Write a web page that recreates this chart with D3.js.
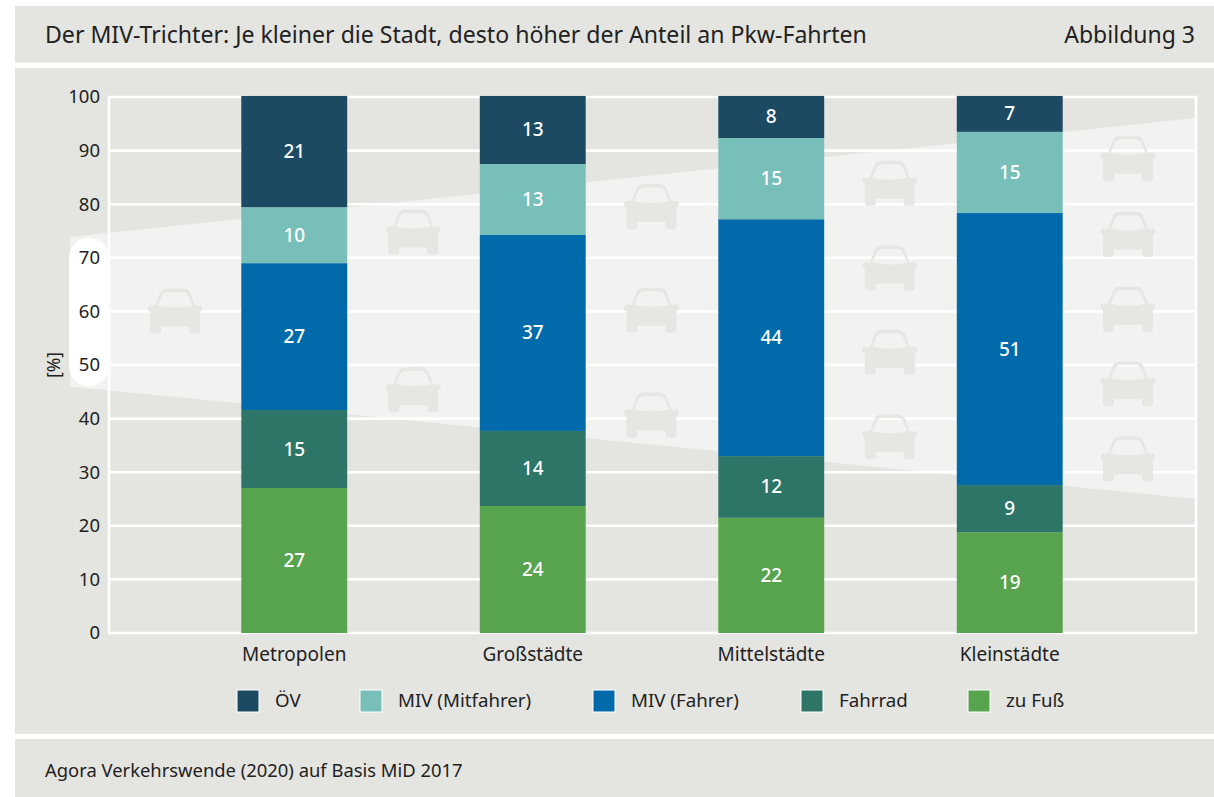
<!DOCTYPE html>
<html><head><meta charset="utf-8">
<script src="https://cdn.jsdelivr.net/npm/d3@7"></script>
<style>html,body{margin:0;padding:0;background:#fff}svg{display:block}text{font-family:"Noto Sans",sans-serif;fill:#222}</style>
</head><body><svg id="c" width="1214" height="797"></svg>
<script>
const titleText="Der MIV-Trichter: Je kleiner die Stadt, desto höher der Anteil an Pkw-Fahrten";
const figureText="Abbildung 3";
const sourceText="Agora Verkehrswende (2020) auf Basis MiD 2017";
const yLabel="[%]";
const categories=["Metropolen","Großstädte","Mittelstädte","Kleinstädte"];
const seriesNames=["zu Fuß","Fahrrad","MIV (Fahrer)","MIV (Mitfahrer)","ÖV"];
const zuFuss=[27.05,23.7,21.5,18.8];
const fahrrad=[14.55,14.0,11.5,8.8];
const fahrer=[27.4,36.55,44.2,50.75];
const mitfahrer=[10.45,13.25,15.15,15.15];
const oev=[20.75,12.7,7.85,6.7];
const seriesColors=["#58a44e","#2d7566","#006aab","#78bfba","#1d4a63"];
const legendOrder=["ÖV","MIV (Mitfahrer)","MIV (Fahrer)","Fahrrad","zu Fuß"];
const yTicks=[0,10,20,30,40,50,60,70,80,90,100];
const funnelUpper=[73.9,96.1];
const funnelLower=[46.0,25.0];
const carColumns=[0,1,1,2,2,2,3,3,3,3,4,4,4,4,4];
const carLevels=[60,74.7,45.3,79.5,60.1,40.6,83.8,68,52.3,36.5,88.5,74.3,60.3,46.4,32.4];
const seriesValues=[zuFuss,fahrrad,fahrer,mitfahrer,oev];

const svg=d3.select("#c");
const panel="#e4e4e0";
[[6,56.5],[68,666],[739,58]].forEach(([y,h])=>svg.append("rect").attr("x",15).attr("y",y).attr("width",1199).attr("height",h).attr("fill",panel));

const y=d3.scaleLinear().domain([0,100]).range([633,97]);
const x=d3.scaleBand().domain(categories).range([175,1129]).paddingInner(0.556).paddingOuter(0.278);
const plotL=109,plotR=1196;
const carX=d3.scaleLinear().domain([0,4]).range([175,1128]);

// funnel
const fx=d3.scaleLinear().domain([0,1]).range([70,plotR]);
svg.append("path").attr("fill","#f2f2f0").attr("d",d3.line().x(d=>fx(d[0])).y(d=>y(d[1]))([[0,funnelUpper[0]],[1,funnelUpper[1]],[1,funnelLower[1]],[0,funnelLower[0]]])+"Z");
svg.append("rect").attr("x",69).attr("y",y(73.8)).attr("width",40).attr("height",y(46.0)-y(73.8)).attr("rx",21).attr("fill","#fff");

// axis + grid
const gy=svg.append("g").attr("transform",`translate(${plotL},0)`)
 .call(d3.axisLeft(y).tickValues(yTicks).tickSize(0).tickPadding(9));
gy.select(".domain").remove();
gy.selectAll("text").attr("font-size",18.5).attr("fill","#222").style("font-family",'"Noto Sans",sans-serif');
const grid=svg.append("g").attr("stroke","#fff").attr("stroke-width",2.6).attr("fill","none");
grid.selectAll("line").data(yTicks).join("line").attr("x1",plotL).attr("x2",plotR).attr("y1",d=>y(d)).attr("y2",d=>y(d));
grid.append("line").attr("x1",plotL).attr("x2",plotL).attr("y1",y(100)-1.3).attr("y2",y(0)+1.3);
grid.append("line").attr("x1",plotR).attr("x2",plotR).attr("y1",y(100)-1.3).attr("y2",y(0)+1.3);

// cars
const carPath="M-20 -6 L-15 -19 Q-13 -23 -7 -23 L7 -23 Q13 -23 15 -19 L20 -6 L25.5 -6 Q27.5 -5.5 27.5 -3 Q27.5 0 25 0 L25 19 Q25 22 22 22 L17 22 Q14 22 14 19 L14 15 L-14 15 L-14 19 Q-14 22 -17 22 L-22 22 Q-25 22 -25 19 L-25 0 Q-27.5 0 -27.5 -3 Q-27.5 -5.5 -25.5 -6 Z M-17.5 -6 Q0 -2 17.5 -6 L12.5 -17 Q11 -19.5 7 -19.5 L-7 -19.5 Q-11 -19.5 -12.5 -17 Z";
svg.append("g").selectAll("path").data(carLevels).join("path")
 .attr("d",carPath).attr("fill","#e6e6e3").attr("fill-rule","evenodd")
 .attr("transform",(d,i)=>`translate(${carX(carColumns[i])},${y(d)})`);

// bars
const stacked=categories.map((c,i)=>{let acc=0;return seriesValues.map((s,k)=>{const v=s[i];const r={c,k,v,y0:acc,y1:acc+v};acc+=v;return r;});}).flat();
const gBars=svg.append("g");
gBars.selectAll("rect").data(stacked).join("rect")
 .attr("x",d=>x(d.c)).attr("width",x.bandwidth())
 .attr("y",d=>y(d.y1)).attr("height",d=>y(d.y0)-y(d.y1))
 .attr("fill",d=>seriesColors[d.k]);
gBars.selectAll("text").data(stacked).join("text")
 .attr("x",d=>x(d.c)+x.bandwidth()/2).attr("y",d=>y((d.y0+d.y1)/2)+6.5)
 .attr("text-anchor","middle").attr("font-size",19).attr("font-weight",500).style("fill","#fff")
 .text(d=>Math.round(d.v));

// category labels
const gx=svg.append("g").attr("transform","translate(0,633)").call(d3.axisBottom(x).tickSize(0).tickPadding(15));
gx.select(".domain").remove();
gx.selectAll("text").attr("font-size",19).attr("fill","#222").style("font-family",'"Noto Sans",sans-serif');

// y title
svg.append("text").attr("transform","translate(60,365) rotate(-90)").attr("text-anchor","middle").attr("font-size",17.5).text(yLabel);

// legend
const legendX=d3.scaleOrdinal().domain(legendOrder).range([237,360,593,801,968]);
const lg=svg.append("g").selectAll("g").data(legendOrder).join("g").attr("transform",d=>`translate(${legendX(d)},690)`);
lg.append("rect").attr("width",22).attr("height",22).attr("fill",d=>seriesColors[seriesNames.indexOf(d)]).attr("stroke","#fff").attr("stroke-width",1);
lg.append("text").attr("x",38).attr("y",17).attr("font-size",18.7).text(d=>d);

// header/footer
svg.append("text").attr("x",45).attr("y",43).attr("font-size",23.1).text(titleText);
svg.append("text").attr("x",1195).attr("y",43).attr("text-anchor","end").attr("font-size",23).text(figureText);
svg.append("text").attr("x",45).attr("y",777).attr("font-size",18.4).text(sourceText);
</script></body></html>
